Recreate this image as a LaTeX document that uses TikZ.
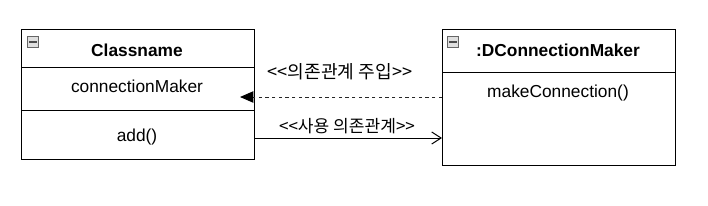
\documentclass[tikz,border=0pt]{standalone}
\usepackage{fontspec}
\setmainfont{Liberation Sans}
\newfontfamily\kr{Noto Sans CJK KR}
\usetikzlibrary{arrows.meta,calc}
\begin{document}
\begin{tikzpicture}[x=0.75pt,y=-0.75pt,
  box/.style={draw=black,line width=1pt,inner sep=0pt,minimum width=174.75pt,anchor=north west},
  lbl/.style={font=\fontsize{13pt}{15pt}\selectfont,inner sep=0pt},
  title/.style={font=\fontsize{13pt}{15pt}\selectfont\bfseries,inner sep=0pt},
  conn/.style={line width=0.75pt},
  icon/.style={draw=gray!80!black,fill=gray!25,line width=0.5pt,minimum size=8pt,inner sep=0pt}]
\useasboundingbox (0,0) rectangle (708,205);
% left class
\node[box,minimum height=28.5pt] (chead) at (21,29) {};
\node[box,minimum height=32.25pt] (cattr) at (21,67) {};
\node[box,minimum height=36.75pt] (cop) at (21,110) {};
% right class
\node[box,minimum height=32.25pt] (dhead) at (442,29) {};
\node[box,minimum height=69.75pt] (dbody) at (442,72) {};
% icons
\node[icon] (ic1) at (33,42) {};
\draw[line width=0.9pt,black!70] ($(ic1.center)+(-2.8pt,0)$) -- ($(ic1.center)+(2.8pt,0)$);
\node[icon] (ic2) at (453,42) {};
\draw[line width=0.9pt,black!70] ($(ic2.center)+(-2.8pt,0)$) -- ($(ic2.center)+(2.8pt,0)$);
% texts
\node[title] (t1) at (137,50) {Classname};
\node[lbl] (t2) at (137,86) {connectionMaker};
\node[lbl] (t3) at (137,137) {add()};
\node[title] (t4) at (558,50) {:DConnectionMaker};
\node[lbl] (t5) at (558,93) {makeConnection()};
% connectors
\coordinate (dtip) at (240,97);
\draw[conn,black!85,dash pattern=on 2.6pt off 2.4pt,-{Triangle[length=10pt,width=8.5pt,fill=black,color=black]}] (dbody.west |- dtip) -- (dtip);
\coordinate (uy) at (0,138);
\draw[conn,-{Straight Barb[length=7pt,width=9pt,line width=0.75pt]}] (cop.east |- uy) -- (dbody.west |- uy);
\node[font=\kr\fontsize{13.6pt}{15pt}\selectfont,inner sep=0pt] (l1) at (340,72) {<<의존관계 주입>>};
\node[font=\kr\fontsize{12.8pt}{14pt}\selectfont,inner sep=0pt] (l2) at (347,126) {<<사용 의존관계>>};
\end{tikzpicture}
\end{document}
